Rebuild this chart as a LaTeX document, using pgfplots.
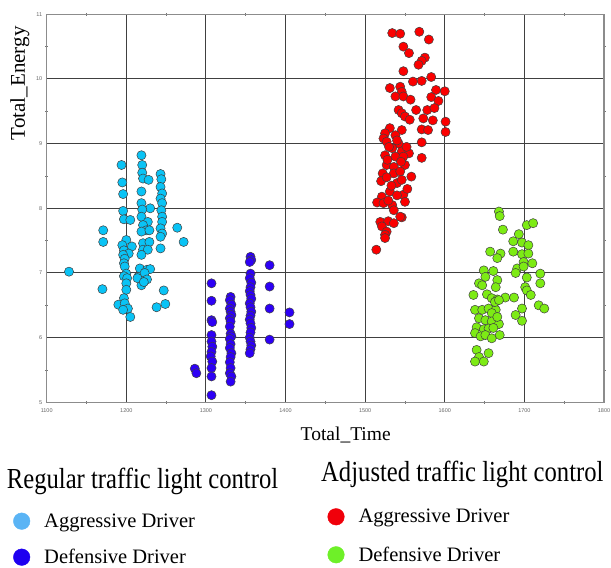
\documentclass[border=0pt]{standalone}
\usepackage{fontspec}
\setmainfont{Liberation Serif}
\setsansfont{Liberation Sans}
\usepackage{graphicx}
\usepackage{pgfplots}
\pgfplotsset{compat=1.18}
\definecolor{cyanP}{RGB}{10,195,245}
\definecolor{blueP}{RGB}{45,0,245}
\definecolor{redP}{RGB}{250,0,0}
\definecolor{greenP}{RGB}{125,235,20}
\definecolor{cyanL}{RGB}{90,180,245}
\definecolor{blueL}{RGB}{30,0,240}
\definecolor{redL}{RGB}{240,0,10}
\definecolor{greenL}{RGB}{110,240,40}
\pgfplotsset{
  dot/.style={only marks, mark=*, mark size=4.6pt, mark options={draw=black!75, line width=0.5pt, fill=#1}},
  lg/.style={only marks, mark=*, mark options={draw=#1, fill=#1, line width=0.4pt}},
  mylegend/.style={
    legend columns=1,
    legend cell align=left,
    legend image code/.code={\draw[##1, mark size=8.3pt] plot coordinates {(8.5pt,0pt)}; \path[draw=none, fill=none] (0pt,-8.5pt) rectangle (31pt,8.5pt);},
    legend style={draw=none, fill=none, inner sep=0pt, outer sep=0pt, row sep=19pt,
      font=\fontsize{20.5}{24}\selectfont, nodes={inner sep=0pt, outer sep=0pt}, cells={anchor=west}},
  },
}
\begin{document}
\begin{tikzpicture}
\useasboundingbox (-46.7pt,-165.7pt) rectangle (564.3pt,402.3pt);
\begin{axis}[
  at={(0pt,0pt)}, anchor=south west,
  scale only axis, width=557.3pt, height=388pt,
  xmin=1100, xmax=1800, ymin=5, ymax=11,
  xtick={1100,1200,...,1800}, ytick={5,6,...,11},
  minor x tick num=1, minor y tick num=1,
  grid=major,
  major grid style={draw=black!75, line width=1pt},
  axis line style={draw=black!45, line width=1.2pt},
  major tick length=0pt, minor tick length=3pt,
  tick style={draw=black!55, line width=0.7pt},
  tick align=center,
  tick label style={font=\sffamily\fontsize{5.5}{6}\selectfont, text=black!60},
  xticklabel style={yshift=-3pt},
  yticklabel style={xshift=-1pt},
  /pgf/number format/assume math mode=true,
  /pgf/number format/1000 sep={},
  scaled ticks=false,
  clip=false,
  mylegend,
  legend style={at={(-0.0601,-0.2845)}, anchor=north west},
]
\addlegendimage{lg=cyanL}
\addlegendentry{Aggressive Driver}
\addlegendimage{lg=blueL}
\addlegendentry{Defensive Driver}
% Regular - Aggressive
\addplot[dot=cyanP, forget plot] coordinates {
(1194,8.67)(1195,8.40)(1196,8.22)(1196,7.96)(1197,7.83)(1205,7.82)(1200,7.51)(1195,7.43)
(1207,7.41)(1197,7.35)(1203,7.30)(1196,7.28)(1198,7.22)(1197,7.15)(1198,7.10)(1200,6.99)
(1197,6.95)(1201,6.92)(1200,6.84)(1200,6.74)(1197,6.61)(1190,6.51)(1198,6.53)(1202,6.45)
(1196,6.43)(1205,6.32)
(1128,7.02)(1171,7.66)(1171,7.48)(1170,6.75)(1247,6.73)(1249,6.52)(1238,6.47)(1264,7.70)(1272,7.48)
(1219,8.82)(1220,8.67)(1220,8.55)(1221,8.46)(1228,8.44)(1219,8.26)(1219,8.08)(1230,8.00)
(1220,7.98)(1219,7.87)(1227,7.79)(1221,7.74)(1225,7.66)(1219,7.64)(1229,7.66)(1221,7.46)
(1229,7.48)(1221,7.36)(1227,7.36)(1219,7.28)(1217,7.07)(1226,7.05)(1230,7.06)(1215,6.94)
(1223,6.94)(1219,6.81)(1223,7.00)(1214,6.92)(1226,6.90)(1222,6.86)
(1243,8.53)(1244,8.45)(1243,8.33)(1245,8.23)(1243,8.15)(1245,8.08)(1244,7.97)(1245,7.87)
(1245,7.79)(1243,7.69)(1245,7.61)(1243,7.56)(1243,7.38)
};
% Regular - Defensive
\addplot[dot=blueP, forget plot] coordinates {
(1286,5.52)(1288,5.45)
(1307,6.84)(1307,6.57)(1307,6.27)(1308,6.24)(1307,6.04)(1307,5.94)(1308,5.86)(1307,5.78)
(1306,5.71)(1308,5.63)(1307,5.53)(1307,5.40)(1307,5.11)
(1331,6.63)(1330,6.58)(1332,6.51)(1330,6.45)(1331,6.40)(1332,6.35)(1330,6.30)(1331,6.25)
(1330,6.17)(1331,6.06)(1332,6.02)(1330,5.98)(1331,5.90)(1330,5.84)(1332,5.76)(1331,5.70)
(1330,5.62)(1331,5.53)(1330,5.45)(1332,5.40)(1331,5.32)
(1356,7.25)(1357,7.20)(1355,7.17)(1356,6.99)(1355,6.92)(1357,6.85)(1356,6.78)(1355,6.72)
(1356,6.66)(1357,6.60)(1355,6.53)(1356,6.47)(1357,6.40)(1356,6.34)(1355,6.28)(1356,6.22)
(1357,6.15)(1356,6.08)(1355,6.00)(1356,5.94)(1357,5.88)(1356,5.82)(1355,5.76)
(1380,7.12)(1380,6.79)(1380,6.45)(1380,5.97)
(1405,6.39)(1405,6.21)
};
\end{axis}
\begin{axis}[
  at={(0pt,0pt)}, anchor=south west,
  scale only axis, width=557.3pt, height=388pt,
  xmin=1100, xmax=1800, ymin=5, ymax=11,
  hide axis, clip=false,
  mylegend,
  legend style={at={(0.5039,-0.2732)}, anchor=north west, row sep=21pt},
]
\addlegendimage{lg=redL}
\addlegendentry{Aggressive Driver}
\addlegendimage{lg=greenL}
\addlegendentry{Defensive Driver}
% Adjusted - Aggressive
\addplot[dot=redP, forget plot] coordinates {
(1534,10.71)(1544,10.70)(1568,10.73)(1580,10.61)(1548,10.50)(1555,10.40)(1575,10.33)(1571,10.28)
(1567,10.22)(1548,10.12)(1560,9.96)(1571,9.97)(1583,10.03)(1531,9.86)(1544,9.88)(1546,9.80)
(1538,9.73)(1548,9.73)(1557,9.68)(1589,9.83)(1600,9.81)(1583,9.72)(1592,9.66)(1542,9.52)
(1546,9.47)(1550,9.42)(1556,9.37)(1564,9.52)(1578,9.52)(1587,9.55)(1573,9.39)(1585,9.36)
(1601,9.34)(1601,9.18)(1571,9.22)(1579,9.21)(1531,9.24)(1546,9.21)(1525,9.16)(1538,9.13)
(1523,9.08)(1527,9.03)(1571,9.02)(1571,8.78)(1542,9.00)(1534,8.93)(1546,8.88)(1555,8.85)
(1525,8.82)(1538,8.80)(1548,8.80)(1527,8.67)(1536,8.64)(1550,8.67)(1522,8.54)(1536,8.54)
(1544,8.57)(1558,8.49)(1540,8.39)(1546,8.44)(1531,8.26)(1548,8.21)(1521,8.18)(1515,8.09)
(1523,8.08)(1534,8.05)(1536,7.97)(1550,8.10)(1546,7.86)(1519,7.79)(1529,7.80)(1536,7.77)
(1521,7.72)(1527,7.64)(1525,7.59)(1514,7.36)(1525,7.54)(1544,7.87)
(1530,8.95)(1540,9.05)(1552,8.95)(1528,8.75)(1545,8.72)(1520,8.42)(1533,8.35)(1527,8.48)
(1540,8.20)(1553,8.30)(1529,8.12)
};
% Adjusted - Defensive
\addplot[dot=greenP, forget plot] coordinates {
(1668,7.95)(1669,7.88)(1673,7.67)(1703,7.74)(1711,7.77)(1693,7.60)(1686,7.49)(1697,7.47)
(1705,7.43)(1657,7.33)(1670,7.30)(1666,7.23)(1686,7.33)(1697,7.29)(1705,7.30)(1699,7.17)
(1710,7.15)(1691,7.07)(1699,7.10)(1689,7.00)(1649,7.04)(1661,7.03)(1651,6.94)(1720,6.99)
(1703,6.93)(1643,6.84)(1647,6.81)(1666,6.89)(1664,6.78)(1636,6.66)(1653,6.67)(1659,6.61)
(1666,6.59)(1676,6.62)(1687,6.62)(1720,6.84)(1701,6.78)(1703,6.73)(1708,6.66)(1718,6.50)
(1725,6.45)(1697,6.45)(1689,6.35)(1697,6.26)(1638,6.43)(1647,6.43)(1655,6.45)(1664,6.43)
(1659,6.38)(1643,6.30)(1651,6.27)(1659,6.25)(1668,6.21)(1666,6.32)(1640,6.16)(1649,6.13)
(1655,6.14)(1661,6.15)(1638,6.07)(1645,6.02)(1651,6.04)(1659,5.99)(1669,6.04)(1640,5.81)
(1655,5.76)(1643,5.70)(1638,5.63)(1649,5.63)(1663,6.55)(1668,6.58)
};
\end{axis}
% axis labels and legend titles
\node[rotate=90, anchor=base, font=\fontsize{21}{24}\selectfont] at (-21.7pt,319pt) {Total\_Energy};
\node[anchor=base, font=\fontsize{19.5}{23}\selectfont] at (299pt,-37.7pt) {Total\_Time};
\node[anchor=base west, inner sep=0pt, font=\fontsize{29}{33}\selectfont] at (-40pt,-85.7pt) {\scalebox{0.85}[1]{Regular traffic light control}};
\node[anchor=base west, inner sep=0pt, font=\fontsize{29}{33}\selectfont] at (274.3pt,-78.7pt) {\scalebox{0.85}[1]{Adjusted traffic light control}};
\end{tikzpicture}
\end{document}
